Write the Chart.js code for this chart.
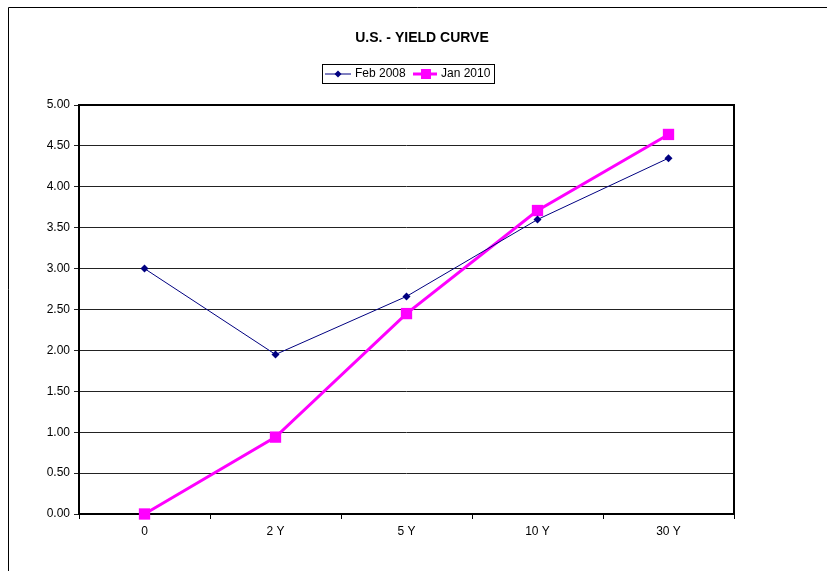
<!DOCTYPE html>
<html>
<head>
<meta charset="utf-8">
<script src="https://cdn.jsdelivr.net/npm/chart.js@4.4.0/dist/chart.umd.min.js"></script>
<style>
  html, body { margin: 0; padding: 0; background: #fff; }
  #wrap { width: 827px; height: 571px; position: relative; }
</style>
</head>
<body>
<div id="wrap"><canvas id="myChart" width="827" height="571"></canvas></div>
<script>
var maturities = ["0", "2 Y", "5 Y", "10 Y", "30 Y"];
var feb2008 = [3.00, 1.95, 2.66, 3.60, 4.35];
var jan2010 = [0.00, 0.94, 2.45, 3.71, 4.64];
var yTicks = [0, 0.5, 1, 1.5, 2, 2.5, 3, 3.5, 4, 4.5, 5];

var FONT = "'Liberation Sans', Arial, sans-serif";

// frame, plot border, title and boxed legend (Excel style)
var excelDecor = {
    id: 'excelDecor',
    beforeDatasetsDraw: function(chart) {
        var c = chart.ctx;
        var a = chart.chartArea;
        c.save();
        c.strokeStyle = '#000';
        c.lineWidth = 2;
        c.strokeRect(a.left, a.top, a.right - a.left, a.bottom - a.top);
        c.restore();
    },
    afterDraw: function(chart) {
        var c = chart.ctx;
        c.save();
        // outer frame
        c.strokeStyle = '#000';
        c.lineWidth = 1;
        c.beginPath();
        c.moveTo(827, 7.5);
        c.lineTo(8.5, 7.5);
        c.lineTo(8.5, 571);
        c.stroke();

        // title
        c.fillStyle = '#000';
        c.font = 'bold 14px ' + FONT;
        c.textAlign = 'center';
        c.textBaseline = 'middle';
        c.fillText('U.S. - YIELD CURVE', 422, 38);

        // legend box
        c.lineWidth = 1;
        c.strokeRect(322.5, 64.5, 172, 19);
        c.font = '12px ' + FONT;
        c.textAlign = 'left';
        var y = 74;
        // Feb 2008
        var ds0 = chart.data.datasets[0];
        c.strokeStyle = ds0.borderColor;
        c.lineWidth = 1;
        c.beginPath(); c.moveTo(325, y); c.lineTo(351, y); c.stroke();
        c.fillStyle = ds0.borderColor;
        c.beginPath();
        c.moveTo(338, y - 3.5); c.lineTo(341.5, y); c.lineTo(338, y + 3.5); c.lineTo(334.5, y);
        c.closePath(); c.fill();
        c.fillStyle = '#000';
        c.fillText(ds0.label, 355, y);
        // Jan 2010
        var ds1 = chart.data.datasets[1];
        c.strokeStyle = ds1.borderColor;
        c.lineWidth = 3;
        c.beginPath(); c.moveTo(413, y); c.lineTo(437, y); c.stroke();
        c.fillStyle = ds1.borderColor;
        c.fillRect(421, y - 5, 10, 10);
        c.fillStyle = '#000';
        c.fillText(ds1.label, 441, y);
        c.restore();
    }
};

var ctx = document.getElementById('myChart').getContext('2d');
var myChart = new Chart(ctx, {
    type: 'line',
    data: {
        labels: maturities,
        datasets: [{
                  data: feb2008,
                  label: "Feb 2008",
                  borderColor: "#000080",
                  backgroundColor: "#000080",
                  borderWidth: 1,
                  pointStyle: 'rectRot',
                  pointRadius: 4,
                  pointBorderWidth: 0,
                  tension: 0,
                  clip: false,
                  fill: false
                }, {
                  data: jan2010,
                  label: "Jan 2010",
                  borderColor: "#FF00FF",
                  backgroundColor: "#FF00FF",
                  borderWidth: 3,
                  pointStyle: 'rect',
                  pointRadius: 8,
                  pointBorderWidth: 0,
                  tension: 0,
                  clip: false,
                  fill: false
                }
              ]
            },
    options: {
        responsive: false,
        animation: false,
        layout: { padding: { top: 105, right: 93, left: 0, bottom: 0 } },
        plugins: {
            legend: { display: false },
            title: { display: false },
            tooltip: { enabled: false }
        },
        scales: {
            x: {
                offset: true,
                afterFit: function(s) { s.height = 57; },
                grid: {
                    offset: true,
                    drawOnChartArea: false,
                    drawTicks: true,
                    tickLength: 5,
                    color: '#000'
                },
                border: { display: false },
                ticks: { color: '#000', font: { family: FONT, size: 12 }, padding: 5, maxRotation: 0 }
            },
            y: {
                min: 0,
                max: 5,
                afterFit: function(s) { s.width = 79; },
                afterBuildTicks: function(s) {
                    s.ticks = yTicks.map(function(v) { return { value: v }; });
                },
                grid: { color: '#222', lineWidth: 1, tickLength: 5 },
                border: { display: false },
                ticks: {
                    color: '#000',
                    font: { family: FONT, size: 12 },
                    padding: 4,
                    callback: function(v) { return Number(v).toFixed(2); }
                }
            }
        }
    },
    plugins: [excelDecor]
});
</script>
</body>
</html>
